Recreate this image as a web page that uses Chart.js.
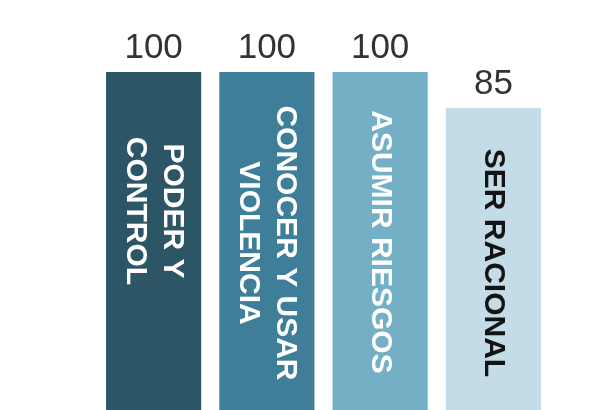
<!DOCTYPE html>
<html>
<head>
<meta charset="utf-8">
<script src="https://cdn.jsdelivr.net/npm/chart.js@4/dist/chart.umd.min.js"></script>
<style>
  html, body { margin: 0; padding: 0; background: #ffffff; }
  #wrap { width: 603px; height: 410px; position: relative; }
</style>
</head>
<body>
<div id="wrap"><canvas id="chart"></canvas></div>
<script>
// data
const categories = [
    ['PODER Y', 'CONTROL'],
    ['CONOCER Y USAR', 'VIOLENCIA'],
    ['ASUMIR RIESGOS'],
    ['SER RACIONAL']
];
const values = [100, 100, 100, 85];

const barColors = ['#2c5566', '#3f7e99', '#73afc5', '#c3dce7'];
const textColors = ['#ffffff', '#ffffff', '#ffffff', '#141414'];

// draws the value above each bar and the rotated name inside it
const barTextPlugin = {
    id: 'barText',
    afterDatasetsDraw: function (chart, args, opts) {
        const ctx = chart.ctx;
        const meta = chart.getDatasetMeta(0);
        const bottom = chart.chartArea.bottom;

        meta.data.forEach((bar, i) => {
            ctx.save();
            ctx.fillStyle = '#333333';
            ctx.font = '35px "Liberation Sans", Arial, sans-serif';
            ctx.textAlign = 'center';
            ctx.textBaseline = 'alphabetic';
            ctx.fillText(String(values[i]), bar.x, bar.y - 14);
            ctx.restore();

            const lines = categories[i];
            const mid = (bar.y + bottom) / 2 + (opts.shift[i] || 0);
            ctx.save();
            ctx.translate(bar.x, mid);
            ctx.rotate(Math.PI / 2);
            ctx.fillStyle = textColors[i];
            ctx.font = 'bold 30px "Liberation Sans", Arial, sans-serif';
            ctx.textAlign = 'center';
            ctx.textBaseline = 'middle';
            const step = 37;
            lines.forEach((line, j) => {
                const off = (j - (lines.length - 1) / 2) * step;
                ctx.fillText(line, 0, off);
            });
            ctx.restore();
        });
    }
};

new Chart(document.getElementById('chart'), {
    type: 'bar',
    data: {
        labels: categories,
        datasets: [{
            data: values,
            backgroundColor: barColors,
            borderWidth: 0,
            base: -41,
            categoryPercentage: 1,
            barPercentage: 0.84
        }]
    },
    options: {
        responsive: true,
        maintainAspectRatio: false,
        animation: false,
        layout: { padding: { left: 97, right: 53, top: 0, bottom: 0 } },
        plugins: {
            legend: { display: false },
            tooltip: { enabled: false },
            barText: { shift: [-30, 2, 1, 4] }
        },
        scales: {
            x: { display: false },
            y: { display: false, min: -41, max: 130 }
        }
    },
    plugins: [barTextPlugin]
});
</script>
</body>
</html>
